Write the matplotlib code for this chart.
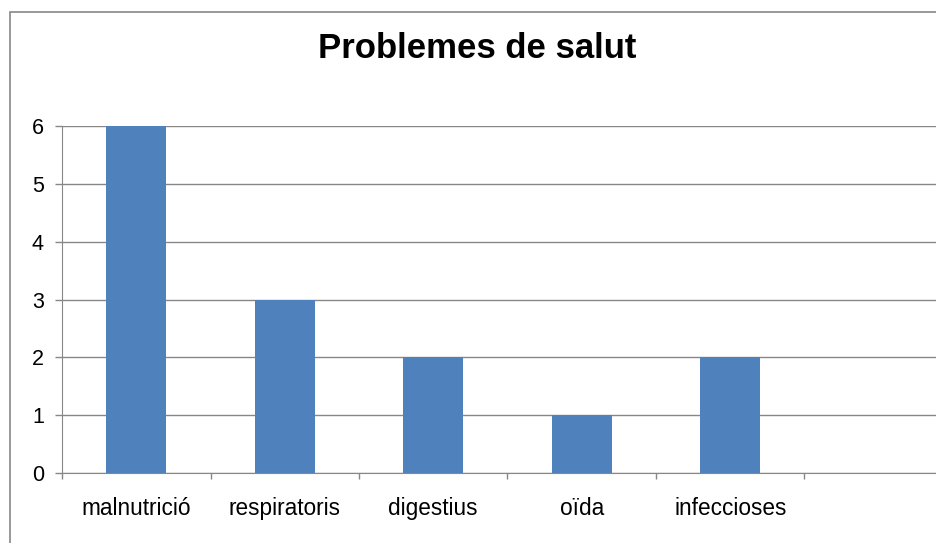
import matplotlib.pyplot as plt
from matplotlib.patches import Rectangle

# dades del grafic
categories = ["malnutrició", "respiratoris", "digestius", "oïda", "infeccioses", ""]
valors = [6, 3, 2, 1, 2, 0]
y_ticks = [0, 1, 2, 3, 4, 5, 6]

plt.rcParams['font.family'] = ['Liberation Sans', 'DejaVu Sans']

W, H = 936, 543
fig = plt.figure(figsize=(W / 100, H / 100), dpi=100)
ax = fig.add_axes([62 / W, 70 / H, (W - 62) / W, 347 / H])

gris = '#878787'
pos = list(range(len(categories)))
ax.bar(pos[:5], valors[:5], width=0.404, color='#4F81BD', zorder=3)

ax.set_xlim(-0.5, -0.5 + (W - 62) / 148.5)
ax.set_ylim(0, 6)
ax.set_yticks(y_ticks)
ax.yaxis.grid(True, color=gris, linewidth=1, zorder=0)

# marques entre categories i etiquetes al centre
ax.set_xticks([p - 0.5 for p in pos])
ax.set_xticklabels([])
ax.set_xticks(pos, minor=True)
ax.set_xticklabels(categories, minor=True, fontsize=16.3)
ax.tick_params(axis='x', which='major', length=4, color=gris, width=1)
ax.tick_params(axis='x', which='minor', length=0, pad=17.5)
ax.tick_params(axis='y', length=5, color=gris, width=1, labelsize=15.5, pad=8)

for s in ['top', 'right']:
    ax.spines[s].set_visible(False)
for s in ['left', 'bottom']:
    ax.spines[s].set_color(gris)
    ax.spines[s].set_zorder(4)

fig.text(477 / W, 1 - 49 / H, "Problemes de salut", ha='center', va='center',
         fontsize=25, fontweight='bold')

# vora de l'area del grafic
fig.patches.append(Rectangle((9.5 / W, -0.2), 1.2, 1 - 11.5 / H + 0.2,
                             transform=fig.transFigure, fill=False,
                             edgecolor=gris, linewidth=1.2))

fig.savefig('out.png', dpi=100)
